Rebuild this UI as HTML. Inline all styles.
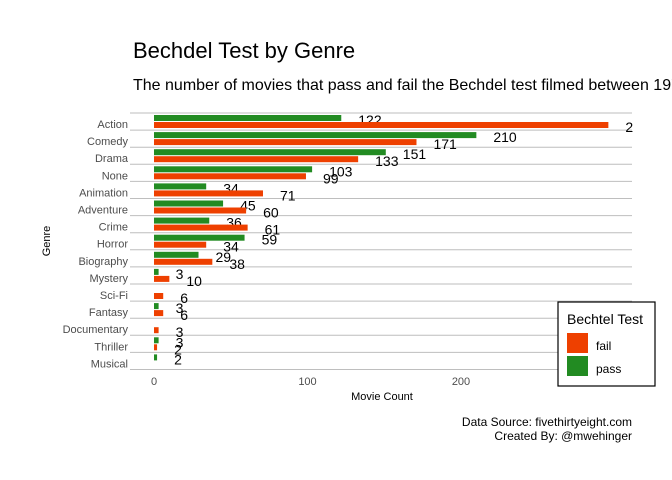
<!DOCTYPE html>
<html><head><meta charset="utf-8"><style>
html,body{margin:0;padding:0;background:#fff;}
svg{font-family:"Liberation Sans",Arial,sans-serif;display:block;}
</style></head><body>
<svg id="chart" width="672" height="480" viewBox="0 0 672 480">
<defs><clipPath id="pc"><rect x="130" y="105" width="503" height="275"/></clipPath></defs>
<text x="133" y="58" font-size="22" fill="#000">Bechdel Test by Genre</text>
<text x="133" y="90" font-size="16" fill="#000">The number of movies that pass and fail the Bechdel test filmed between 1970 and 2013</text>
<g id="grid"></g>
<g id="bars" clip-path="url(#pc)"></g>
<g id="ylabels"></g>
<g id="xticks"></g>
<text x="382" y="400" font-size="11" text-anchor="middle" fill="#000">Movie Count</text>
<text transform="translate(50,241) rotate(-90)" font-size="11" text-anchor="middle" fill="#000">Genre</text>
<g>
<rect x="558" y="302" width="97" height="84" fill="#fff" stroke="#000" stroke-width="1.2"/>
<text x="567" y="324" font-size="14" fill="#000">Bechtel Test</text>
<rect x="567" y="333" width="21" height="20" fill="#EE4000"/>
<text x="596" y="350" font-size="12" fill="#000">fail</text>
<rect x="567" y="356" width="21" height="20" fill="#228B22"/>
<text x="596" y="373" font-size="12" fill="#000">pass</text>
</g>
<text x="632" y="426" font-size="12" text-anchor="end" fill="#000">Data Source: fivethirtyeight.com</text>
<text x="632" y="440" font-size="12" text-anchor="end" fill="#000">Created By: @mwehinger</text>
</svg>
<script>
const genres=["Action","Comedy","Drama","None","Animation","Adventure","Crime","Horror","Biography","Mystery","Sci-Fi","Fantasy","Documentary","Thriller","Musical"];
const passVals=[122,210,151,103,34,45,36,59,29,3,0,3,0,3,2];
const failVals=[296,171,133,99,71,60,61,34,38,10,6,6,3,2,0];
const xTicks=[0,100,200];
const NS="http://www.w3.org/2000/svg";
const x0=154, k=1.535, yTop=113, step=17.1, pL=130, pR=632;
const xs=v=>x0+v*k;
const yb=i=>yTop+i*step;
function mk(t,a,p){const e=document.createElementNS(NS,t);for(const n in a)e.setAttribute(n,a[n]);p.appendChild(e);return e;}
const grid=document.getElementById('grid'),bars=document.getElementById('bars'),yl=document.getElementById('ylabels'),xt=document.getElementById('xticks');
for(let i=0;i<=genres.length;i++){
  const l=mk('line',{x1:pL,x2:pR,y1:yb(i),y2:yb(i),stroke:'#bebebe','stroke-width':1},grid);
  
  
}
genres.forEach((g,i)=>{
  const b=yb(i);
  const t=mk('text',{x:128,y:b+15,'font-size':11,'text-anchor':'end',fill:'#4d4d4d'},yl);t.textContent=g;
  
  
  if(passVals[i]>0){
    const r=mk('rect',{x:xs(0),y:b+2,width:passVals[i]*k,height:6,fill:'#228B22'},bars);
    
    
    const tl=mk('text',{x:xs(passVals[i])+17,y:b+12,'font-size':14,fill:'#000'},bars);tl.textContent=passVals[i];
    
    
  }
  if(failVals[i]>0){
    const r=mk('rect',{x:xs(0),y:b+9,width:failVals[i]*k,height:6,fill:'#EE4000'},bars);
    
    
    const tl=mk('text',{x:xs(failVals[i])+17,y:b+19,'font-size':14,fill:'#000'},bars);tl.textContent=failVals[i];
    
    
  }
});
xTicks.forEach(v=>{
  const t=mk('text',{x:xs(v),y:385,'font-size':11,'text-anchor':'middle',fill:'#4d4d4d'},xt);t.textContent=v;
  
  
});
</script>
</body></html>
